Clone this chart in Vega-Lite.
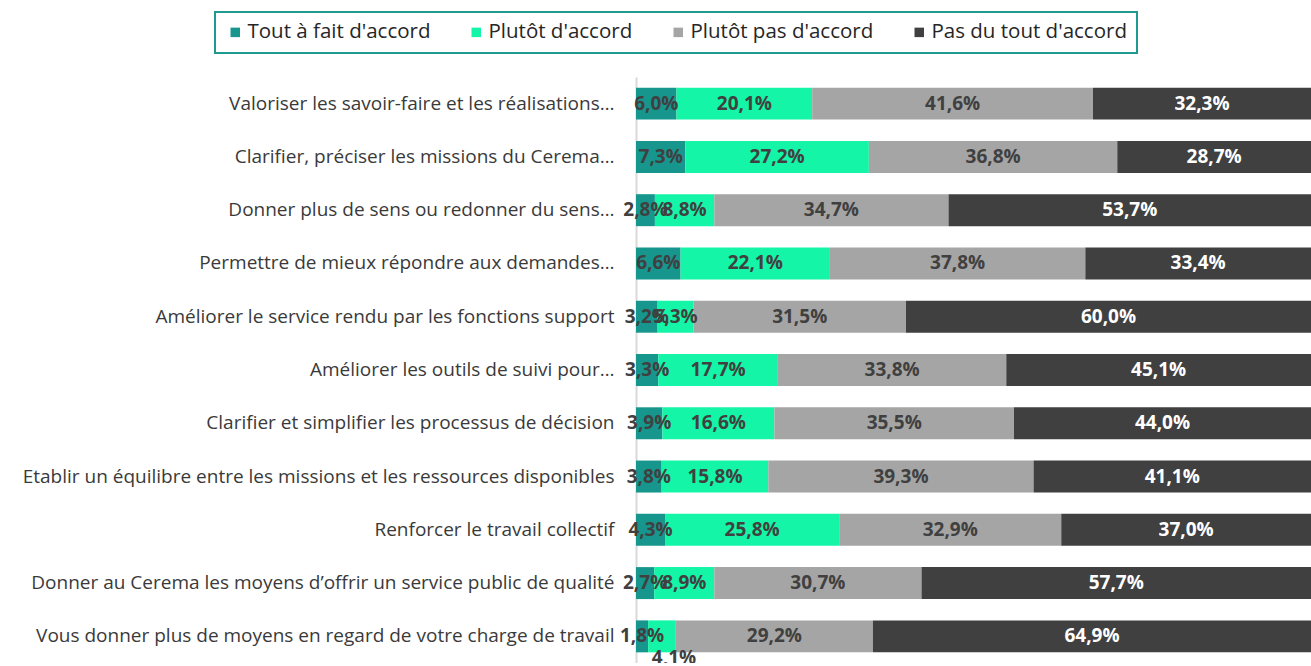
{
  "$schema": "https://vega.github.io/schema/vega-lite/v6.json",
  "width": 675,
  "height": 586,
  "autosize": {"type": "none"},
  "padding": {"left": 636, "top": 77, "right": 0, "bottom": 0},
  "config": {
    "view": {"stroke": null},
    "locale": {"number": {"decimal": ",", "thousands": "\u00a0", "grouping": [3], "currency": ["", " €"]}}
  },
  "data": {
    "values": [
      {"q": "Valoriser les savoir-faire et les réalisations…", "r": "Tout à fait d'accord", "k": 1, "v": 0.060},
      {"q": "Valoriser les savoir-faire et les réalisations…", "r": "Plutôt d'accord", "k": 2, "v": 0.201},
      {"q": "Valoriser les savoir-faire et les réalisations…", "r": "Plutôt pas d'accord", "k": 3, "v": 0.416},
      {"q": "Valoriser les savoir-faire et les réalisations…", "r": "Pas du tout d'accord", "k": 4, "v": 0.323},
      {"q": "Clarifier, préciser les missions du Cerema…", "r": "Tout à fait d'accord", "k": 1, "v": 0.073},
      {"q": "Clarifier, préciser les missions du Cerema…", "r": "Plutôt d'accord", "k": 2, "v": 0.272},
      {"q": "Clarifier, préciser les missions du Cerema…", "r": "Plutôt pas d'accord", "k": 3, "v": 0.368},
      {"q": "Clarifier, préciser les missions du Cerema…", "r": "Pas du tout d'accord", "k": 4, "v": 0.287},
      {"q": "Donner plus de sens ou redonner du sens…", "r": "Tout à fait d'accord", "k": 1, "v": 0.028},
      {"q": "Donner plus de sens ou redonner du sens…", "r": "Plutôt d'accord", "k": 2, "v": 0.088},
      {"q": "Donner plus de sens ou redonner du sens…", "r": "Plutôt pas d'accord", "k": 3, "v": 0.347},
      {"q": "Donner plus de sens ou redonner du sens…", "r": "Pas du tout d'accord", "k": 4, "v": 0.537},
      {"q": "Permettre de mieux répondre aux demandes…", "r": "Tout à fait d'accord", "k": 1, "v": 0.066},
      {"q": "Permettre de mieux répondre aux demandes…", "r": "Plutôt d'accord", "k": 2, "v": 0.221},
      {"q": "Permettre de mieux répondre aux demandes…", "r": "Plutôt pas d'accord", "k": 3, "v": 0.378},
      {"q": "Permettre de mieux répondre aux demandes…", "r": "Pas du tout d'accord", "k": 4, "v": 0.334},
      {"q": "Améliorer le service rendu par les fonctions support", "r": "Tout à fait d'accord", "k": 1, "v": 0.032},
      {"q": "Améliorer le service rendu par les fonctions support", "r": "Plutôt d'accord", "k": 2, "v": 0.053},
      {"q": "Améliorer le service rendu par les fonctions support", "r": "Plutôt pas d'accord", "k": 3, "v": 0.315},
      {"q": "Améliorer le service rendu par les fonctions support", "r": "Pas du tout d'accord", "k": 4, "v": 0.600},
      {"q": "Améliorer les outils de suivi pour…", "r": "Tout à fait d'accord", "k": 1, "v": 0.033},
      {"q": "Améliorer les outils de suivi pour…", "r": "Plutôt d'accord", "k": 2, "v": 0.177},
      {"q": "Améliorer les outils de suivi pour…", "r": "Plutôt pas d'accord", "k": 3, "v": 0.338},
      {"q": "Améliorer les outils de suivi pour…", "r": "Pas du tout d'accord", "k": 4, "v": 0.451},
      {"q": "Clarifier et simplifier les processus de décision", "r": "Tout à fait d'accord", "k": 1, "v": 0.039},
      {"q": "Clarifier et simplifier les processus de décision", "r": "Plutôt d'accord", "k": 2, "v": 0.166},
      {"q": "Clarifier et simplifier les processus de décision", "r": "Plutôt pas d'accord", "k": 3, "v": 0.355},
      {"q": "Clarifier et simplifier les processus de décision", "r": "Pas du tout d'accord", "k": 4, "v": 0.440},
      {"q": "Etablir un équilibre entre les missions et les ressources disponibles", "r": "Tout à fait d'accord", "k": 1, "v": 0.038},
      {"q": "Etablir un équilibre entre les missions et les ressources disponibles", "r": "Plutôt d'accord", "k": 2, "v": 0.158},
      {"q": "Etablir un équilibre entre les missions et les ressources disponibles", "r": "Plutôt pas d'accord", "k": 3, "v": 0.393},
      {"q": "Etablir un équilibre entre les missions et les ressources disponibles", "r": "Pas du tout d'accord", "k": 4, "v": 0.411},
      {"q": "Renforcer le travail collectif", "r": "Tout à fait d'accord", "k": 1, "v": 0.043},
      {"q": "Renforcer le travail collectif", "r": "Plutôt d'accord", "k": 2, "v": 0.258},
      {"q": "Renforcer le travail collectif", "r": "Plutôt pas d'accord", "k": 3, "v": 0.329},
      {"q": "Renforcer le travail collectif", "r": "Pas du tout d'accord", "k": 4, "v": 0.370},
      {"q": "Donner au Cerema les moyens d’offrir un service public de qualité", "r": "Tout à fait d'accord", "k": 1, "v": 0.027},
      {"q": "Donner au Cerema les moyens d’offrir un service public de qualité", "r": "Plutôt d'accord", "k": 2, "v": 0.089},
      {"q": "Donner au Cerema les moyens d’offrir un service public de qualité", "r": "Plutôt pas d'accord", "k": 3, "v": 0.307},
      {"q": "Donner au Cerema les moyens d’offrir un service public de qualité", "r": "Pas du tout d'accord", "k": 4, "v": 0.577},
      {"q": "Vous donner plus de moyens en regard de votre charge de travail", "r": "Tout à fait d'accord", "k": 1, "v": 0.018},
      {"q": "Vous donner plus de moyens en regard de votre charge de travail", "r": "Plutôt d'accord", "k": 2, "v": 0.041},
      {"q": "Vous donner plus de moyens en regard de votre charge de travail", "r": "Plutôt pas d'accord", "k": 3, "v": 0.292},
      {"q": "Vous donner plus de moyens en regard de votre charge de travail", "r": "Pas du tout d'accord", "k": 4, "v": 0.649}
    ]
  },
  "transform": [
    {"stack": "v", "groupby": ["q"], "sort": [{"field": "k", "order": "ascending"}], "as": ["x0", "x1"], "offset": "normalize"},
    {"calculate": "(datum.x0 + datum.x1) / 2", "as": "xm"}
  ],
  "encoding": {
    "y": {
      "field": "q", "type": "nominal", "sort": null,
      "scale": {"paddingInner": 0.4, "paddingOuter": 0.2},
      "axis": {
        "title": null, "ticks": false, "domainColor": "#d9d9d9", "domainWidth": 2,
        "labelFont": "Open Sans", "labelFontSize": 19, "labelColor": "#3a3a3a",
        "labelPadding": 22, "labelLimit": 800
      }
    }
  },
  "layer": [
    {
      "mark": {"type": "bar"},
      "encoding": {
        "x": {"field": "x0", "type": "quantitative", "scale": {"domain": [0, 1], "nice": false}, "axis": null},
        "x2": {"field": "x1"},
        "color": {
          "field": "r", "type": "nominal",
          "scale": {
            "domain": ["Tout à fait d'accord", "Plutôt d'accord", "Plutôt pas d'accord", "Pas du tout d'accord"],
            "range": ["#16968d", "#14f5a7", "#a5a5a5", "#404040"]
          },
          "legend": {
            "title": null, "orient": "none", "direction": "horizontal",
            "legendX": -421, "legendY": -65,
            "padding": 10, "strokeColor": "#1f9a90",
            "symbolType": "square", "symbolSize": 90, "symbolStrokeWidth": 0,
            "labelFont": "Open Sans", "labelFontSize": 20.5, "labelColor": "#262626",
            "labelOffset": 2, "columnPadding": 35, "labelLimit": 400,
            "encode": {"legend": {"update": {"strokeWidth": {"value": 2}}}}
          }
        }
      }
    },
    {
      "transform": [{"filter": "!(datum.k === 2 && datum.q === 'Vous donner plus de moyens en regard de votre charge de travail')"}],
      "mark": {"type": "text", "font": "Open Sans", "fontWeight": "bold", "fontSize": 19},
      "encoding": {
        "x": {"field": "xm", "type": "quantitative"},
        "text": {"field": "v", "type": "quantitative", "format": ".1%"},
        "color": {"condition": {"test": "datum.k === 4", "value": "#ffffff"}, "value": "#404040"}
      }
    },
    {
      "transform": [{"filter": "datum.k === 2 && datum.q === 'Vous donner plus de moyens en regard de votre charge de travail'"}],
      "mark": {"type": "text", "font": "Open Sans", "fontWeight": "bold", "fontSize": 19, "dy": 22, "dx": 12, "color": "#404040"},
      "encoding": {
        "x": {"field": "xm", "type": "quantitative"},
        "text": {"field": "v", "type": "quantitative", "format": ".1%"}
      }
    }
  ]
}
